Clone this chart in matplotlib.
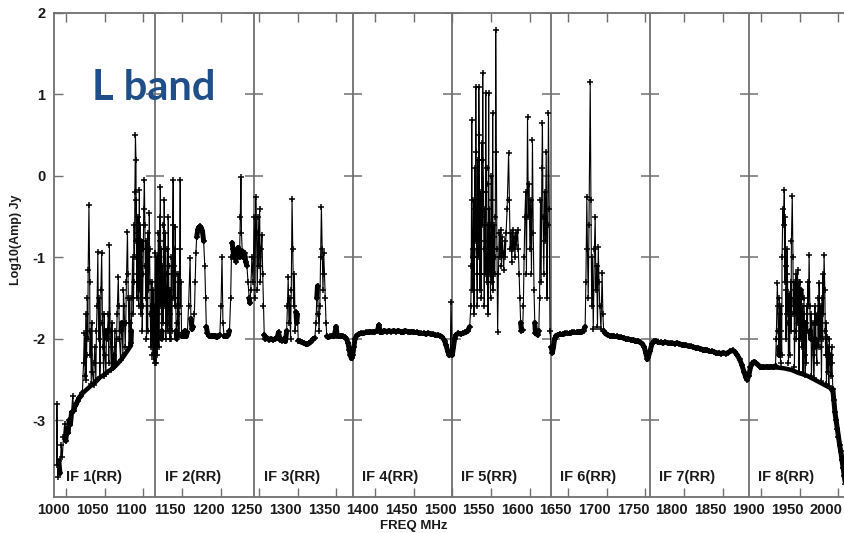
import numpy as np
import matplotlib.pyplot as plt
from matplotlib.collections import LineCollection

plt.rcParams['axes.unicode_minus'] = False
plt.rcParams['font.family'] = ['Liberation Sans', 'DejaVu Sans']

# IF band edges (MHz) and labels
if_edges = [1003.6, 1131.6, 1259.6, 1387.6, 1515.6, 1643.6, 1771.6, 1899.6, 2027.6]
if_labels = ['IF 1(RR)', 'IF 2(RR)', 'IF 3(RR)', 'IF 4(RR)',
             'IF 5(RR)', 'IF 6(RR)', 'IF 7(RR)', 'IF 8(RR)']

xtick_vals = [1000, 1050, 1100, 1150, 1200, 1250, 1300, 1350, 1400, 1450, 1500,
              1550, 1600, 1650, 1700, 1750, 1800, 1850, 1900, 1950, 2000]
ytick_vals = [2, 1, 0, -1, -2, -3]

# spectrum (freq MHz, log10 amp), one list per IF
if1 = [(1003.5, -3.55), (1004.0, -2.8), (1005.0, -3.7), (1006.5, -3.5), (1008.0, -3.65),
       (1009.5, -3.3), (1011.0, -3.45), (1012.5, -3.2), (1014.0, -3.05), (1015.5, -3.25),
       (1017.0, -3.1), (1018.5, -3.15), (1020.0, -3.0), (1021.5, -3.05), (1023.0, -2.9),
       (1024.5, -2.7), (1026.0, -2.88), (1027.5, -2.82), (1029.0, -2.8), (1031.0, -2.76),
       (1033.0, -2.72), (1035.0, -2.7), (1037.0, -2.66), (1038.5, -2.3), (1039.5, -1.93),
       (1040.5, -2.45), (1041.5, -1.7), (1042.5, -2.2), (1043.5, -1.5), (1044.5, -1.15),
       (1045.5, -0.36), (1046.5, -1.3), (1047.5, -1.9), (1048.5, -2.55), (1050.0, -2.4),
       (1051.5, -2.56), (1053.0, -2.1), (1054.5, -2.5), (1056.0, -1.6), (1057.0, -0.93),
       (1058.0, -2.0), (1059.5, -2.47), (1061.0, -1.4), (1062.0, -0.95), (1063.0, -1.8),
       (1064.5, -2.45), (1066.0, -2.2), (1067.5, -2.43), (1069.0, -2.0), (1070.5, -1.7),
       (1072.0, -0.85), (1073.0, -1.9), (1074.5, -2.38), (1076.0, -2.1), (1077.5, -2.35),
       (1079.0, -1.9), (1080.5, -2.3), (1082.0, -1.7), (1083.5, -1.24), (1085.0, -2.0),
       (1086.5, -2.26), (1088.0, -1.8), (1089.5, -2.2), (1091.0, -1.6), (1092.5, -2.1),
       (1094.0, -1.3), (1095.4, -0.69), (1096.5, -1.5), (1097.5, -2.1), (1099.0, -1.8),
       (1100.0, -2.05), (1101.0, -1.5), (1102.0, -1.0), (1103.0, -1.7), (1104.0, -0.6),
       (1105.0, -0.2), (1105.7, 0.5), (1106.4, 0.2), (1107.0, -0.3), (1108.0, -1.2),
       (1109.0, -0.5), (1110.0, -1.6), (1110.8, -0.17), (1111.5, -1.0), (1112.5, -1.7),
       (1113.5, -0.8), (1114.5, -1.9), (1115.5, -1.2), (1116.5, -0.4), (1117.3, -0.05),
       (1118.0, -0.6), (1119.0, -1.5), (1120.0, -2.0), (1121.0, -1.1), (1122.0, -0.7),
       (1123.7, -0.45), (1124.5, -1.3), (1125.5, -2.1), (1126.5, -1.6), (1127.5, -2.2),
       (1128.5, -1.4), (1129.5, -2.25), (1130.5, -2.3)]

# extra RFI channels filling the dense part of IF 1
if1_rfi = [(1042.0, -2.5), (1044.0, -2.0), (1047.0, -2.2), (1049.2, -1.8), (1052.2, -2.3),
           (1055.2, -1.9), (1058.8, -1.5), (1060.2, -2.3), (1063.8, -2.1), (1065.2, -1.7),
           (1068.2, -1.9), (1071.2, -2.3), (1075.2, -1.8), (1078.2, -2.2), (1081.2, -2.0),
           (1084.2, -1.6), (1087.2, -1.9), (1090.2, -1.4), (1093.2, -1.8), (1096.0, -1.2),
           (1098.2, -1.5), (1100.5, -1.9), (1103.5, -1.3), (1104.5, -1.0), (1106.8, -0.8),
           (1107.5, -1.5), (1108.5, -0.7), (1109.5, -1.3), (1111.0, -1.4), (1112.0, -0.6),
           (1113.0, -1.2), (1114.0, -0.9), (1115.0, -1.6), (1116.0, -0.9), (1118.5, -1.1),
           (1119.5, -0.8), (1120.5, -1.5), (1121.5, -1.9), (1122.5, -1.4), (1123.2, -1.0),
           (1124.0, -0.9), (1125.0, -1.7), (1126.0, -1.9), (1127.0, -1.3), (1128.0, -1.8),
           (1129.0, -1.9), (1130.0, -1.6)]

# noise floor under the RFI of IF 1
if1_floor = [(1038.0, -2.66), (1045.0, -2.6), (1050.0, -2.56), (1055.0, -2.52),
             (1060.0, -2.47), (1065.0, -2.44), (1070.0, -2.4), (1075.0, -2.37),
             (1080.0, -2.33), (1085.0, -2.28), (1090.0, -2.22), (1095.0, -2.15),
             (1100.0, -2.08)]

if2 = [(1131.5, -0.95), (1132.0, -2.3), (1133.0, -1.4), (1134.0, -2.2), (1135.0, -1.0),
       (1136.0, -2.1), (1137.0, -0.5), (1138.0, -0.13), (1139.0, -0.9), (1140.0, -1.9),
       (1141.0, -1.3), (1142.0, -0.6), (1143.0, -0.3), (1144.0, -1.2), (1145.0, -2.0),
       (1146.0, -1.5), (1147.0, -0.9), (1148.2, -0.5), (1149.0, -1.4), (1150.0, -2.0),
       (1151.0, -1.7), (1152.0, -1.0), (1153.0, -1.9), (1154.6, -0.05), (1155.5, -1.5),
       (1156.3, -0.9), (1157.2, -0.63), (1158.0, -1.6), (1159.0, -2.0), (1160.0, -1.8),
       (1161.0, -1.2), (1162.0, -1.95), (1163.7, -0.05), (1164.5, -1.3), (1165.5, -1.97),
       (1167.0, -1.93), (1168.5, -1.97), (1170.0, -1.9), (1171.5, -1.97), (1173.0, -1.92),
       (1174.5, -1.6), (1176.5, -1.01), (1177.5, -1.75), (1179.0, -1.88), (1180.5, -1.85),
       (1182.0, -1.7), (1183.0, -1.3), (1184.0, -0.95), (1185.0, -0.75), (1186.5, -0.66),
       (1188.0, -0.63), (1189.5, -0.62), (1191.0, -0.64), (1192.5, -0.68), (1194.0, -0.8),
       (1195.5, -1.1), (1196.5, -1.5), (1197.5, -1.85), (1199.0, -1.93), (1201.0, -1.96),
       (1203.0, -1.97), (1205.0, -1.96), (1207.0, -1.97), (1209.0, -1.96), (1211.0, -1.98),
       (1213.0, -1.97), (1215.0, -1.95), (1216.5, -1.6), (1217.8, -0.99), (1219.0, -1.8),
       (1220.5, -1.97), (1222.0, -1.96), (1224.0, -1.97), (1226.0, -1.95), (1227.5, -1.9),
       (1229.0, -1.5), (1230.0, -1.0), (1231.0, -0.82), (1232.0, -0.9), (1233.0, -1.0),
       (1234.5, -0.95), (1236.0, -1.05), (1237.5, -0.9), (1239.0, -0.88), (1240.5, -1.0),
       (1241.5, -0.5), (1242.3, -0.01), (1243.0, -0.7), (1244.0, -0.92), (1245.5, -1.0),
       (1247.0, -0.95), (1248.5, -1.05), (1250.0, -1.1), (1251.5, -1.3), (1253.0, -1.5),
       (1254.0, -1.56), (1255.0, -1.4), (1256.5, -1.0), (1258.0, -1.3)]

if2_rfi = [(1132.5, -1.8), (1133.5, -1.0), (1134.5, -1.7), (1135.5, -0.7), (1136.5, -1.5),
           (1137.5, -0.8), (1138.5, -1.6), (1139.5, -2.0), (1140.5, -1.1), (1141.5, -1.8),
           (1142.5, -0.9), (1143.5, -1.6), (1144.5, -0.7), (1145.5, -1.8), (1146.5, -1.2),
           (1147.5, -1.9), (1148.6, -1.1), (1149.5, -1.8), (1150.5, -1.4), (1151.5, -2.0),
           (1152.5, -1.5), (1153.5, -1.2), (1154.0, -0.6), (1155.0, -1.1), (1156.8, -1.6),
           (1157.6, -1.2), (1158.5, -1.9), (1160.5, -1.5), (1161.5, -1.7), (1162.5, -1.3),
           (1163.2, -0.9), (1164.0, -1.6)]

if3 = [(1259.5, -0.5), (1260.5, -1.5), (1261.5, -0.26), (1262.5, -0.7), (1263.5, -1.4),
       (1264.5, -0.5), (1265.5, -1.1), (1266.5, -0.4), (1267.5, -1.3), (1268.5, -0.9),
       (1269.5, -0.72), (1270.5, -1.2), (1271.5, -1.6), (1272.5, -1.95), (1274.0, -2.0),
       (1276.5, -1.99), (1279.0, -2.01), (1281.5, -2.0), (1284.0, -2.01), (1286.5, -2.0),
       (1289.0, -1.99), (1291.0, -1.92), (1293.0, -2.01), (1295.5, -2.02), (1298.0, -2.0),
       (1300.0, -2.03), (1301.5, -1.9), (1302.5, -1.6), (1303.5, -1.24), (1304.5, -1.8),
       (1305.5, -1.5), (1306.5, -2.0), (1307.5, -1.4), (1308.5, -0.28), (1309.5, -0.9),
       (1310.5, -1.6), (1311.5, -1.2), (1312.5, -1.9), (1313.5, -1.67), (1314.5, -1.8),
       (1315.5, -1.7), (1316.5, -2.02), (1318.5, -2.03), (1321.0, -2.04), (1323.5, -2.05),
       (1326.0, -2.06), (1328.5, -2.06), (1331.0, -2.05), (1333.5, -2.03), (1336.0, -2.0),
       (1338.0, -1.99), (1339.5, -1.8), (1340.5, -1.5), (1341.5, -1.35), (1342.5, -1.7),
       (1343.5, -1.9), (1344.5, -1.6), (1345.5, -1.0), (1346.5, -0.38), (1347.5, -0.9),
       (1348.5, -1.4), (1349.5, -0.95), (1350.5, -1.2), (1351.5, -1.5), (1352.5, -1.8),
       (1353.5, -1.97), (1355.5, -1.98), (1358.0, -1.97), (1360.5, -1.96), (1363.0, -1.97),
       (1365.5, -1.85), (1367.0, -1.96), (1369.5, -1.97), (1372.0, -1.96), (1374.5, -1.97),
       (1377.0, -1.98), (1379.0, -2.0), (1381.0, -2.05), (1382.5, -2.13), (1384.0, -2.2),
       (1385.5, -2.24), (1387.0, -2.2)]

if4 = [(1388.5, -2.1), (1390.0, -2.0), (1392.0, -1.96), (1395.0, -1.94), (1398.0, -1.93),
       (1401.0, -1.93), (1404.0, -1.92), (1407.0, -1.92), (1410.0, -1.91), (1413.0, -1.92),
       (1416.0, -1.91), (1419.0, -1.9), (1421.0, -1.83), (1422.5, -1.91), (1425.0, -1.91),
       (1428.0, -1.9), (1431.0, -1.91), (1434.0, -1.9), (1437.0, -1.91), (1440.0, -1.9),
       (1443.0, -1.91), (1446.0, -1.9), (1449.0, -1.91), (1452.0, -1.91), (1455.0, -1.9),
       (1458.0, -1.91), (1461.0, -1.92), (1464.0, -1.91), (1467.0, -1.92), (1470.0, -1.92),
       (1473.0, -1.93), (1476.0, -1.93), (1479.0, -1.93), (1482.0, -1.94), (1485.0, -1.93),
       (1488.0, -1.94), (1491.0, -1.94), (1494.0, -1.95), (1497.0, -1.95), (1500.0, -1.96),
       (1503.0, -1.98), (1506.0, -2.02), (1508.0, -2.08), (1510.0, -2.15), (1512.0, -2.2),
       (1513.5, -2.18), (1514.2, -1.55)]

if5 = [(1516.0, -2.2), (1517.5, -2.1), (1519.0, -2.0), (1521.0, -1.95), (1524.0, -1.93),
       (1527.0, -1.94), (1530.0, -1.93), (1533.0, -1.92), (1536.0, -1.9), (1538.5, -1.85),
       (1540.0, -1.6), (1541.2, 0.69), (1542.0, -1.4), (1543.0, -0.9), (1544.0, -1.7),
       (1545.0, -0.4), (1546.4, 1.09), (1547.3, -0.6), (1548.3, -1.6), (1549.3, 0.2),
       (1550.3, 1.09), (1551.2, -0.3), (1552.2, -1.2), (1553.2, -0.5), (1554.3, 0.4),
       (1555.4, 1.26), (1556.4, -0.2), (1557.4, -1.6), (1558.4, -0.8), (1559.3, 1.02),
       (1560.3, 0.1), (1561.3, -1.0), (1562.3, -1.7), (1563.1, 1.02), (1564.0, -0.4),
       (1565.0, -1.1), (1566.0, -0.6), (1567.0, -1.3), (1568.3, 0.77), (1569.3, -0.9),
       (1570.3, -0.75), (1571.2, -1.0), (1572.2, 1.79), (1573.0, 0.3), (1573.8, -0.9),
       (1574.7, -1.92), (1575.7, -1.2), (1576.7, -0.7), (1577.7, -1.0), (1578.6, -0.66),
       (1579.6, -1.1), (1580.6, -0.75), (1581.6, -0.95), (1582.6, -1.15), (1583.6, -0.8),
       (1584.6, -1.0), (1585.6, -0.7), (1587.0, -0.4), (1588.9, 0.28), (1590.0, -0.3),
       (1591.0, -0.9), (1592.0, -0.7), (1593.0, -1.05), (1594.1, -0.66), (1595.1, -0.9),
       (1596.1, -0.75), (1597.1, -1.0), (1598.1, -0.7), (1599.1, -0.85), (1600.5, -0.66),
       (1601.5, -0.9), (1602.5, -1.2), (1603.5, -1.5), (1604.5, -1.8), (1605.5, -1.9),
       (1607.0, -1.89), (1608.0, -1.6), (1609.0, -1.0), (1610.0, -0.5), (1611.0, -0.2),
       (1612.0, -1.2), (1613.4, 0.72), (1614.5, -0.5), (1615.5, -0.1), (1616.5, -0.9),
       (1617.5, -0.3), (1618.5, -1.2), (1619.8, 0.44), (1620.8, -0.7), (1621.8, -1.4),
       (1622.8, -1.8), (1623.7, -1.93), (1625.0, -1.9), (1626.5, -1.95), (1628.0, -1.9),
       (1629.0, -1.5), (1630.2, -0.3), (1631.0, -1.3), (1632.0, 0.1), (1632.7, 0.65),
       (1633.5, -0.5), (1634.5, -1.2), (1635.5, -0.2), (1636.6, -0.8), (1637.6, 0.3),
       (1638.6, -1.5), (1639.5, -0.6), (1640.5, 0.77), (1641.5, -0.4), (1642.5, -1.9)]

if5_rfi = [(1540.6, -1.1), (1541.6, -0.3), (1542.5, -1.0), (1543.5, -0.3), (1544.5, -1.4),
           (1545.5, 0.1), (1545.9, -0.8), (1546.8, 0.3), (1547.8, -1.2), (1548.8, -0.4),
           (1549.8, -1.0), (1550.8, 0.5), (1551.7, -1.4), (1552.7, -0.2), (1553.7, -1.5),
           (1554.8, -0.6), (1555.9, 0.2), (1556.9, -0.9), (1557.9, -0.4), (1558.8, -1.2),
           (1559.8, -0.2), (1560.8, -1.3), (1561.8, -0.6), (1562.7, -0.1), (1563.6, -1.2),
           (1564.5, -0.8), (1565.5, -1.5), (1566.5, 0.0), (1567.5, -0.9), (1568.0, -0.3),
           (1568.8, -1.4), (1569.8, -0.6), (1570.8, -1.2), (1571.7, -0.5)]

if6 = [(1644.0, -2.1), (1645.6, -2.17), (1647.0, -2.1), (1648.5, -2.0), (1650.5, -1.96),
       (1653.0, -1.95), (1656.0, -1.94), (1659.0, -1.94), (1662.0, -1.93), (1665.0, -1.93),
       (1668.0, -1.93), (1671.0, -1.92), (1674.0, -1.92), (1677.0, -1.92), (1680.0, -1.91),
       (1683.0, -1.91), (1686.0, -1.9), (1688.0, -1.85), (1689.0, -1.3), (1690.2, -0.26),
       (1691.0, -0.9), (1692.0, -1.5), (1693.0, -0.6), (1694.6, 1.15), (1695.5, -0.3),
       (1696.5, -1.6), (1697.5, -1.0), (1698.5, -1.88), (1700.0, -0.9), (1701.0, -0.5),
       (1702.0, -1.4), (1703.0, -1.1), (1704.0, -1.85), (1705.0, -0.87), (1706.0, -1.3),
       (1707.0, -1.6), (1708.5, -1.88), (1710.0, -1.19), (1711.0, -1.7), (1712.0, -1.9),
       (1714.0, -1.93), (1717.0, -1.95), (1720.0, -1.96), (1723.0, -1.96), (1726.0, -1.97),
       (1729.0, -1.97), (1732.0, -1.98), (1735.0, -1.98), (1738.0, -1.99), (1741.0, -2.0),
       (1744.0, -2.0), (1747.0, -2.01), (1750.0, -2.01), (1753.0, -2.02), (1756.0, -2.02),
       (1759.0, -2.04), (1762.0, -2.06), (1764.5, -2.1), (1766.5, -2.17), (1768.5, -2.25),
       (1770.0, -2.22)]

if7 = [(1772.0, -2.15), (1774.5, -2.06), (1777.0, -2.03), (1780.0, -2.03), (1783.0, -2.04),
       (1786.0, -2.04), (1789.0, -2.05), (1792.0, -2.04), (1795.0, -2.05), (1798.0, -2.05),
       (1801.0, -2.05), (1804.0, -2.06), (1807.0, -2.05), (1810.0, -2.06), (1813.0, -2.07),
       (1816.0, -2.07), (1819.0, -2.08), (1822.0, -2.09), (1825.0, -2.09), (1828.0, -2.1),
       (1831.0, -2.11), (1834.0, -2.11), (1837.0, -2.12), (1840.0, -2.13), (1843.0, -2.13),
       (1846.0, -2.14), (1849.0, -2.15), (1852.0, -2.15), (1855.0, -2.16), (1858.0, -2.17),
       (1861.0, -2.17), (1864.0, -2.18), (1867.0, -2.17), (1870.0, -2.18), (1873.0, -2.17),
       (1876.0, -2.15), (1879.0, -2.14), (1882.0, -2.16), (1885.0, -2.2), (1888.0, -2.25),
       (1891.0, -2.32), (1893.5, -2.4), (1896.0, -2.47), (1898.0, -2.5)]

if8 = [(1900.0, -2.45), (1902.0, -2.35), (1904.5, -2.3), (1907.0, -2.28), (1909.5, -2.3),
       (1912.0, -2.32), (1914.5, -2.34), (1917.0, -2.34), (1920.0, -2.35), (1923.0, -2.34),
       (1926.0, -2.35), (1929.0, -2.34), (1932.0, -2.35), (1934.5, -2.33), (1935.5, -2.0),
       (1936.9, -1.31), (1938.0, -1.9), (1939.0, -2.2), (1940.0, -1.7), (1941.0, -2.3),
       (1942.0, -1.9), (1943.0, -1.0), (1944.0, -0.4), (1945.0, -0.6), (1945.9, -0.17),
       (1946.8, -0.5), (1947.7, -1.1), (1948.6, -1.4), (1949.5, -0.9), (1950.4, -1.5),
       (1951.3, -2.3), (1952.3, -1.45), (1953.2, -1.6), (1954.1, -1.3), (1955.1, -0.8),
       (1956.2, -0.25), (1957.1, -1.0), (1958.0, -1.5), (1959.0, -2.35), (1960.0, -1.4),
       (1961.0, -1.2), (1962.0, -1.6), (1963.0, -1.16), (1964.0, -1.5), (1965.0, -2.4),
       (1966.0, -1.3), (1967.0, -1.7), (1968.0, -1.5), (1969.0, -1.8), (1970.0, -2.42),
       (1971.0, -1.7), (1972.0, -1.9), (1973.0, -2.44), (1974.0, -1.9), (1975.0, -1.6),
       (1976.5, -1.3), (1978.0, -0.97), (1979.0, -1.6), (1980.0, -2.0), (1981.0, -2.46),
       (1982.5, -2.0), (1984.0, -2.48), (1985.5, -1.6), (1987.0, -2.1), (1988.5, -1.8),
       (1990.0, -1.5), (1991.0, -1.31), (1992.0, -2.0), (1993.0, -1.6), (1994.0, -2.52),
       (1995.0, -1.5), (1996.0, -1.2), (1997.4, -0.97), (1998.4, -1.4), (1999.4, -2.2),
       (2000.5, -2.55), (2001.3, -1.98), (2002.3, -2.4), (2003.5, -2.58), (2005.0, -2.3),
       (2006.5, -2.45), (2007.7, -2.3), (2008.7, -2.62), (2010.0, -2.75), (2011.5, -2.9),
       (2013.0, -3.0), (2014.5, -3.1), (2016.0, -3.2), (2017.5, -3.3), (2019.0, -3.38),
       (2020.5, -3.48), (2022.0, -3.58), (2023.5, -3.68), (2025.0, -3.78), (2026.5, -3.88)]

if8_rfi = [(1937.5, -1.6), (1938.5, -2.1), (1939.5, -1.5), (1940.5, -2.0), (1941.5, -1.6),
           (1942.5, -2.2), (1946.3, -1.3), (1947.2, -0.9), (1948.1, -2.0), (1949.0, -1.7),
           (1950.0, -1.2), (1950.8, -1.8), (1951.8, -1.6), (1952.8, -2.2), (1953.7, -1.5),
           (1954.6, -1.9), (1957.6, -1.7), (1958.5, -1.3), (1959.5, -1.9), (1960.5, -1.7),
           (1961.5, -2.0), (1962.5, -1.4), (1963.5, -1.8), (1964.5, -1.3), (1965.5, -1.7),
           (1966.5, -2.0), (1967.5, -1.4), (1968.5, -2.1), (1969.5, -1.6), (1970.5, -1.9),
           (1971.5, -1.5), (1972.5, -2.2), (1973.5, -1.8), (1974.5, -2.3), (1975.8, -1.9),
           (1977.2, -1.6), (1979.5, -1.9), (1980.5, -1.7), (1983.2, -1.8), (1984.8, -2.2),
           (1986.2, -2.0), (1988.0, -2.3), (1989.2, -1.7), (1990.5, -2.1), (1992.5, -1.8),
           (1993.5, -2.1), (1995.5, -2.0), (1996.5, -1.7), (1998.9, -1.9), (2000.0, -1.8),
           (2001.8, -2.2), (2003.0, -2.1), (2004.2, -2.0), (2005.8, -2.2), (2007.2, -2.1)]

# noise floor under the RFI of IF 8
if8_floor = [(1935.0, -2.35), (1945.0, -2.36), (1955.0, -2.38), (1965.0, -2.42),
             (1975.0, -2.45), (1985.0, -2.5), (1995.0, -2.55), (2005.0, -2.6),
             (2009.0, -2.65)]

spectrum = sorted(if1 + if1_rfi + if2 + if2_rfi + if3 + if4 + if5 + if5_rfi
                  + if6 + if7 + if8 + if8_rfi)
freq = np.array([p[0] for p in spectrum])
amp = np.array([p[1] for p in spectrum])

grey = '#707070'
ink = '#1a1a1a'

fig = plt.figure(figsize=(8.44, 5.33), dpi=100)
ax = fig.add_axes([53.8 / 844, 36 / 533, 793.6 / 844, 484 / 533])

# smooth stretches of the passband look heavy in the original (dense channels)
pts = np.column_stack([freq, amp])
steps = np.abs(np.diff(amp))
smooth = (steps < 0.15) & (np.diff(freq) < 4)
segs = np.stack([pts[:-1], pts[1:]], axis=1)[smooth]
ax.add_collection(LineCollection(segs, colors='black', linewidths=3.6,
                                 capstyle='round', zorder=2))

for floor in (if1_floor, if8_floor):
    ax.plot([p[0] for p in floor], [p[1] for p in floor], color='black', lw=3.2,
            solid_capstyle='round', zorder=2)

ax.plot(freq, amp, color='black', lw=0.8, marker='+', ms=5, mew=1.1, zorder=3)

ax.set_xlim(if_edges[0], if_edges[-1])
ax.set_ylim(-3.94, 2.0)

# IF dividers with their own y tick marks
for e in if_edges[1:-1]:
    ax.axvline(e, color=grey, lw=1.3, zorder=1)
    ax.hlines(ytick_vals, e - 11.6, e + 11.6, color=grey, lw=1.1, zorder=1)

for i, lab in enumerate(if_labels):
    ax.text(if_edges[i] + 12.0, -3.7, lab, fontsize=10.5, fontweight='bold',
            va='center', ha='left', color=ink)

ax.set_xticks(xtick_vals)
ax.set_xticklabels([str(v) for v in xtick_vals], fontsize=10.5, fontweight='bold',
                   color=ink)
ax.tick_params(axis='x', which='major', length=0, pad=4)
ax.set_xticks(np.arange(1016, 2020, 50), minor=True)
ax.tick_params(axis='x', which='minor', direction='in', length=6.5, width=1,
               color=grey, top=True, bottom=True)

ax.set_yticks(ytick_vals)
ax.set_yticklabels([str(v) for v in ytick_vals], fontsize=10.5, fontweight='bold',
                   color=ink)
ax.tick_params(axis='y', direction='in', length=6.5, width=1, color=grey, pad=6)

for s in ax.spines.values():
    s.set_color(grey)
    s.set_linewidth(1.3)

fig.text(16 / 844, 1 - 240 / 533, 'Log10(Amp) Jy', rotation=90, ha='center',
         va='center', fontsize=9, fontweight='bold', color=ink)
fig.text(414 / 844, 1 - 526 / 533, 'FREQ MHz', ha='center', va='center',
         fontsize=9.5, fontweight='bold', color=ink)

fig.text(92 / 844, 1 - 100 / 533, 'L band', ha='left', va='baseline',
         fontsize=30, fontweight='bold', color='#1f4e89', family=['Lato', 'DejaVu Sans'])

fig.savefig('out.png', dpi=100)
